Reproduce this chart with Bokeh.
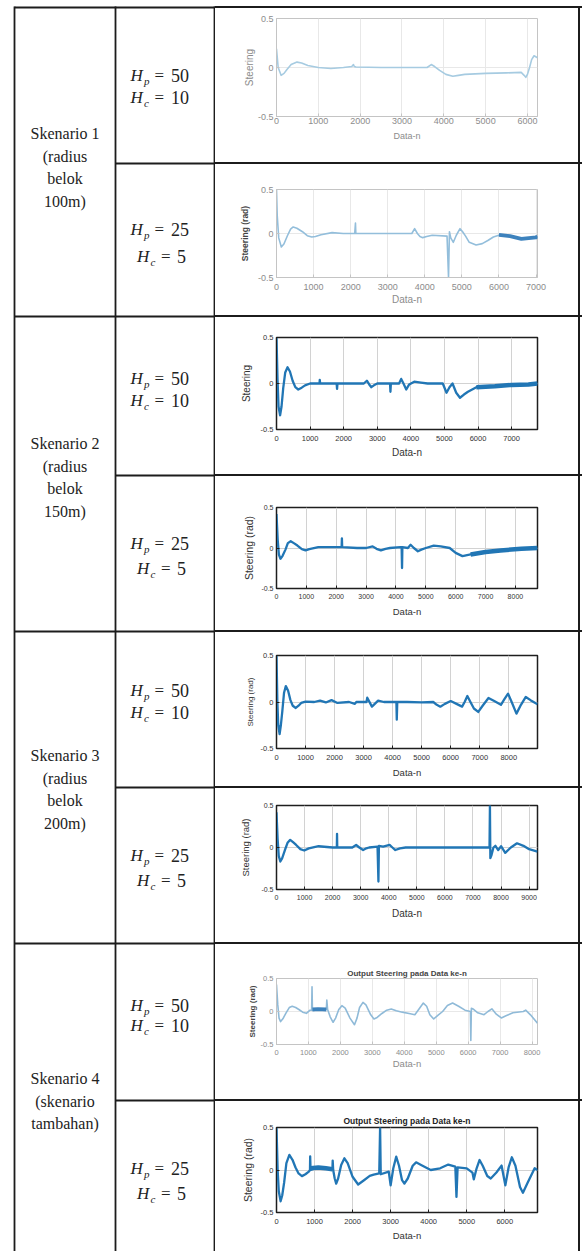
from bokeh.plotting import figure
from bokeh.layouts import row, column
from bokeh.models import Range1d, FixedTicker
from bokeh.core.properties import value
from bokeh.embed import file_html
from bokeh.resources import INLINE

# ---------------- data ----------------
# Skenario 1, Hp=50 Hc=10
p1_x = [0, 40, 110, 180, 250, 350, 490, 600, 750, 1000, 1300, 1600, 1800, 1840, 1860, 1900, 2500, 3000, 3600, 3700, 3780, 3900, 4050, 4215, 4350, 4500, 5000, 5500, 5850, 5920, 5960, 6000, 6050, 6100, 6157, 6240]
p1_y = [0.19, 0.0, -0.08, -0.06, -0.02, 0.03, 0.055, 0.045, 0.02, 0.0, -0.01, 0.0, 0.01, 0.03, 0.01, 0.005, 0.0, 0.0, 0.0, 0.03, 0.01, -0.03, -0.07, -0.09, -0.08, -0.07, -0.06, -0.055, -0.05, -0.08, -0.1, -0.07, 0.0, 0.08, 0.12, 0.1]
# Skenario 1, Hp=25 Hc=5
p2_x = [0, 20, 60, 130, 200, 300, 380, 450, 550, 700, 830, 951, 1050, 1200, 1500, 1800, 2110, 2130, 2140, 2500, 3000, 3650, 3726, 3800, 3870, 3944, 4050, 4200, 4600, 4640, 4665, 4700, 4770, 4850, 4950, 5020, 5100, 5200, 5384, 5550, 5700, 5850, 6038, 6300, 6605, 7000, 7040]
p2_y = [0.5, 0.2, -0.05, -0.153, -0.12, -0.02, 0.05, 0.074, 0.06, 0.02, -0.025, -0.04, -0.035, -0.015, 0.01, 0.0, 0.0, 0.12, 0.0, 0.0, 0.0, 0.0, 0.055, 0.0, -0.035, -0.047, -0.035, -0.02, -0.03, -0.5, 0.02, -0.05, -0.1, -0.02, 0.055, 0.02, -0.03, -0.1, -0.13, -0.115, -0.08, -0.04, -0.015, -0.03, -0.06, -0.045, -0.03]
p2_band_x = [6000, 6300, 6605, 7000, 7040]
p2_band_y = [-0.015, -0.03, -0.06, -0.045, -0.03]
# Skenario 2, Hp=50 Hc=10
p3_x = [0, 30, 60, 107, 150, 200, 260, 329, 400, 480, 560, 648, 750, 850, 1000, 1280, 1288, 1300, 1790, 1803, 1815, 2600, 2690, 2760, 2824, 2900, 3000, 3380, 3392, 3405, 3650, 3712, 3780, 3863, 3950, 4100, 4300, 4500, 4950, 5062, 5150, 5240, 5350, 5462, 5580, 5700, 5950, 6500, 7000, 7500, 7770]
p3_y = [0.5, 0.05, -0.25, -0.345, -0.25, -0.05, 0.12, 0.176, 0.13, 0.03, -0.04, -0.065, -0.045, -0.02, 0.0, 0.0, 0.04, 0.0, 0.0, -0.058, 0.0, 0.0, 0.03, -0.01, -0.04, -0.02, 0.0, 0.0, -0.09, 0.0, 0.0, 0.05, 0.0, -0.065, -0.01, 0.02, 0.01, 0.0, 0.0, -0.1, -0.04, 0.0, -0.1, -0.155, -0.12, -0.09, -0.04, -0.03, -0.015, -0.01, 0.0]
p3_band_x = [5950, 6500, 7000, 7500, 7770]
p3_band_y = [-0.04, -0.03, -0.015, -0.01, 0.0]
# Skenario 2, Hp=25 Hc=5
p4_x = [0, 40, 80, 133, 200, 300, 380, 476, 580, 700, 850, 973, 1100, 1400, 2000, 2180, 2190, 2200, 2700, 3000, 3219, 3350, 3495, 3650, 3800, 4150, 4190, 4204, 4215, 4400, 4491, 4600, 4735, 4850, 5000, 5265, 5500, 5800, 6000, 6228, 6500, 7000, 7500, 8200, 8740]
p4_y = [0.42, 0.1, -0.08, -0.133, -0.1, -0.02, 0.06, 0.084, 0.06, 0.03, -0.015, -0.03, -0.015, 0.01, 0.01, 0.01, 0.12, 0.01, 0.0, 0.0, 0.02, -0.01, -0.03, -0.01, 0.0, 0.01, 0.01, -0.247, 0.01, 0.0, 0.04, 0.0, -0.04, -0.02, 0.0, 0.03, 0.02, 0.0, -0.06, -0.1, -0.08, -0.05, -0.03, -0.01, 0.0]
p4_band_x = [6500, 7000, 7500, 8200, 8740]
p4_band_y = [-0.08, -0.05, -0.03, -0.01, 0.0]
# Skenario 3, Hp=50 Hc=10
p5_x = [0, 30, 60, 107, 150, 200, 260, 321, 400, 480, 560, 664, 760, 850, 1000, 1300, 1500, 1700, 1895, 2100, 2500, 2700, 2750, 3100, 3126, 3287, 3500, 3700, 4130, 4143, 4160, 4500, 5000, 5400, 5520, 5642, 5800, 6000, 6200, 6392, 6480, 6574, 6680, 6800, 6949, 7100, 7302, 7500, 7730, 7850, 7976, 8100, 8265, 8420, 8587, 8750, 8990]
p5_y = [0.5, 0.0, -0.25, -0.346, -0.25, -0.1, 0.1, 0.171, 0.12, 0.02, -0.04, -0.064, -0.04, -0.01, 0.005, 0.0, 0.015, -0.005, 0.02, -0.01, 0.0, -0.02, 0.0, 0.0, 0.046, -0.05, 0.015, 0.0, 0.0, -0.19, 0.0, 0.0, -0.005, 0.0, -0.03, -0.05, -0.02, 0.01, -0.02, -0.05, 0.0, 0.065, 0.0, -0.07, -0.107, -0.04, 0.043, 0.01, -0.03, 0.03, 0.09, 0.0, -0.125, -0.03, 0.054, 0.02, -0.025]
# Skenario 3, Hp=25 Hc=5
p6_x = [0, 40, 80, 136, 200, 300, 400, 488, 600, 700, 850, 988, 1150, 1500, 2000, 2150, 2157, 2165, 2700, 2838, 2950, 3087, 3200, 3300, 3600, 3632, 3650, 3800, 4030, 4130, 4234, 4400, 4600, 7590, 7605, 7620, 7662, 7730, 7800, 7900, 8002, 8150, 8350, 8570, 8800, 9000, 9300]
p6_y = [0.42, 0.1, -0.1, -0.167, -0.13, -0.03, 0.06, 0.091, 0.06, 0.03, -0.02, -0.036, -0.01, 0.015, 0.0, 0.0, 0.163, 0.0, 0.0, 0.03, 0.0, -0.03, -0.01, 0.0, 0.01, -0.405, 0.02, 0.01, 0.03, 0.0, -0.03, -0.01, 0.0, 0.0, 0.5, -0.127, -0.09, 0.0, 0.02, -0.03, 0.015, -0.063, 0.0, 0.05, 0.02, -0.02, -0.048]
# Skenario 4, Hp=50 Hc=10
p7_x = [0, 40, 80, 128, 200, 300, 400, 492, 600, 700, 820, 935, 1050, 1100, 1112, 1125, 1560, 1575, 1600, 1680, 1772, 1850, 1950, 2047, 2150, 2300, 2441, 2520, 2600, 2707, 2800, 2950, 3051, 3150, 3300, 3450, 3592, 3750, 3937, 4150, 4331, 4450, 4596, 4700, 4800, 4921, 5050, 5200, 5350, 5512, 5700, 5900, 6070, 6083, 6100, 6151, 6300, 6496, 6620, 6742, 6880, 7037, 7200, 7400, 7726, 7800, 7950, 8170]
p7_y = [0.41, 0.1, -0.1, -0.153, -0.11, -0.02, 0.06, 0.078, 0.06, 0.03, -0.01, -0.028, 0.02, 0.02, 0.374, 0.02, 0.03, 0.173, 0.03, -0.08, -0.163, -0.1, 0.03, 0.088, 0.05, -0.1, -0.2, -0.1, 0.06, 0.138, 0.1, -0.05, -0.113, -0.09, -0.03, 0.02, 0.038, 0.01, -0.01, -0.03, -0.048, 0.03, 0.128, 0.08, -0.05, -0.113, -0.06, 0.0, 0.09, 0.128, 0.08, 0.02, 0.0, -0.44, 0.05, 0.038, -0.02, -0.048, 0.0, 0.04, -0.04, -0.098, -0.06, -0.02, 0.0, 0.02, -0.05, -0.178]
p7_band_x = [1125, 1300, 1560]
p7_band_y = [0.03, 0.035, 0.03]
# Skenario 4, Hp=25 Hc=5
p8_x = [0, 30, 60, 108, 150, 200, 260, 338, 420, 500, 580, 669, 760, 850, 880, 885, 895, 1000, 1200, 1470, 1477, 1490, 1530, 1569, 1620, 1700, 1785, 1870, 2000, 2146, 2300, 2450, 2554, 2700, 2723, 2740, 2950, 3000, 3070, 3146, 3220, 3300, 3362, 3450, 3580, 3669, 3800, 4054, 4300, 4515, 4700, 4730, 4760, 5000, 5150, 5185, 5260, 5338, 5420, 5540, 5631, 5780, 5915, 6015, 6100, 6185, 6280, 6400, 6477, 6600, 6785, 6860]
p8_y = [0.5, 0.0, -0.25, -0.368, -0.3, -0.15, 0.08, 0.177, 0.12, 0.03, -0.04, -0.072, -0.05, -0.02, 0.0, 0.16, 0.0, 0.02, 0.02, 0.01, 0.11, 0.0, -0.1, -0.16, -0.1, 0.06, 0.138, 0.08, -0.08, -0.17, -0.12, -0.07, -0.055, -0.04, 0.5, -0.05, -0.02, -0.18, 0.02, 0.157, 0.05, -0.12, -0.16, -0.1, 0.05, 0.09, 0.06, 0.0, 0.02, 0.064, 0.04, -0.317, 0.03, 0.02, -0.03, -0.11, 0.02, 0.118, 0.05, -0.07, -0.1, -0.03, 0.052, -0.18, 0.03, 0.15, 0.05, -0.2, -0.267, -0.15, 0.02, 0.0]
p8_band_x = [900, 1100, 1300, 1470]
p8_band_y = [0.02, 0.03, 0.02, 0.01]

x_max = [6240, 7040, 7770, 8740, 8990, 9300, 8170, 6860]
x_ticks = [
    [0, 1000, 2000, 3000, 4000, 5000, 6000],
    [0, 1000, 2000, 3000, 4000, 5000, 6000, 7000],
    [0, 1000, 2000, 3000, 4000, 5000, 6000, 7000],
    [0, 1000, 2000, 3000, 4000, 5000, 6000, 7000, 8000],
    [0, 1000, 2000, 3000, 4000, 5000, 6000, 7000, 8000],
    [0, 1000, 2000, 3000, 4000, 5000, 6000, 7000, 8000, 9000],
    [0, 1000, 2000, 3000, 4000, 5000, 6000, 7000, 8000],
    [0, 1000, 2000, 3000, 4000, 5000, 6000],
]
ytick_vals = [-0.5, 0, 0.5]
ytick_labels = ["-0.5", "0", "0.5"]
y_labels = ["Steering", "Steering (rad)", "Steering", "Steering (rad)",
            "Steering (rad)", "Steering (rad)", "Steering (rad)", "Steering (rad)"]
x_label = "Data-n"
titles = [None, None, None, None, None, None,
          "Output Steering pada Data ke-n", "Output Steering pada Data ke-n"]

scenario_text = [["Skenario 1", "(radius", "belok", "100m)"],
                 ["Skenario 2", "(radius", "belok", "150m)"],
                 ["Skenario 3", "(radius", "belok", "200m)"],
                 ["Skenario 4", "(skenario", "tambahan)"]]
hp_vals = ["50", "25", "50", "25", "50", "25", "50", "25"]
hc_vals = ["10", "5", "10", "5", "10", "5", "10", "5"]

series = [(p1_x, p1_y, None, None), (p2_x, p2_y, p2_band_x, p2_band_y),
          (p3_x, p3_y, p3_band_x, p3_band_y), (p4_x, p4_y, p4_band_x, p4_band_y),
          (p5_x, p5_y, None, None), (p6_x, p6_y, None, None),
          (p7_x, p7_y, p7_band_x, p7_band_y), (p8_x, p8_y, p8_band_x, p8_band_y)]

# ---------------- layout constants ----------------
LINE = "#1c1c1c"
ROW_Y = [7, 163, 316, 475, 631, 787, 943, 1100, 1251]
COL_X = [14, 115, 214]
RIGHT_X = 579
SCEN_Y0 = [133, 443, 755, 1078]
SCEN_DY = 22.5
HP_Y = [75, 229, 378, 543, 690, 855, 1005, 1168]
HC_Y = [97, 256, 400, 568, 712, 880, 1025, 1193]
HCX = 161

PANELS = [
    dict(top=0, h=162, L=274, R=537, T=18, B=116, dark=False, tf=9, to=6.5, xf=9, xo=21, yf=10, yo=22, yb=False, lc="#a6cbe1", lw=1.6),
    dict(top=162, h=153, L=273, R=542, T=189, B=277, dark=False, tf=9, to=11, xf=10, xo=23, yf=8.5, yo=28, yb=True, lc="#93bedb", lw=1.6),
    dict(top=315, h=159, L=268, R=560, T=337, B=429, dark=True, tf=7.5, to=10, xf=10, xo=23, yf=10, yo=28, yb=False, lc="#2176b5", lw=2.3),
    dict(top=474, h=156, L=276, R=539, T=507, B=588, dark=True, tf=7, to=9, xf=9.5, xo=22, yf=10.5, yo=24, yb=False, lc="#2176b5", lw=2.3),
    dict(top=630, h=156, L=261, R=542, T=655, B=748, dark=True, tf=7.5, to=10, xf=9.5, xo=24, yf=8, yo=24, yb=False, lc="#2176b5", lw=2.3),
    dict(top=786, h=156, L=273, R=547, T=805, B=889, dark=True, tf=7, to=9, xf=10, xo=24, yf=9.5, yo=28, yb=False, lc="#2176b5", lw=2.3),
    dict(top=942, h=157, L=267, R=543, T=978, B=1044, dark=False, tf=7.5, to=9, xf=9.5, xo=18, yf=8, yo=22, yb=True, lc="#8fbad8", lw=1.6, ttf=8, tto=6),
    dict(top=1099, h=152, L=268, R=565, T=1127, B=1212, dark=True, tf=7.5, to=10, xf=9.5, xo=23, yf=10.5, yo=26, yb=False, lc="#2176b5", lw=2.3, ttf=8.5, tto=8),
]

# ---------------- left part of the table ----------------
left = figure(width=215, height=1251, x_range=Range1d(0, 215), y_range=Range1d(1251, 0),
              output_backend="svg", toolbar_location=None, min_border=0)
left.axis.visible = False
left.grid.visible = False
left.outline_line_color = None
left.background_fill_color = "white"
left.border_fill_color = "white"

sx0, sy0, sx1, sy1 = [], [], [], []
for i, y in enumerate(ROW_Y[:-1]):
    sx0.append(COL_X[0] if i % 2 == 0 else COL_X[1]); sx1.append(215)
    sy0.append(y); sy1.append(y)
for x in COL_X:
    sx0.append(x); sx1.append(x); sy0.append(ROW_Y[0] - 1); sy1.append(1251)
left.segment(x0=sx0, y0=sy0, x1=sx1, y1=sy1, line_color=LINE, line_width=1.8)

tx, ty, tt = [], [], []
for s, lines in enumerate(scenario_text):
    for k, t in enumerate(lines):
        tx.append(64.5); ty.append(SCEN_Y0[s] + k * SCEN_DY); tt.append(t)
left.text(x=tx, y=ty, text=tt, text_font=value("Liberation Serif"), text_font_size="16px",
          text_align="center", text_baseline="middle", text_color="#222222")

hx, hy, sbx, sby, sbt, ex, ey, nx, ny, nt = [], [], [], [], [], [], [], [], [], []
for r in range(8):
    for yc, sub, num in ((HP_Y[r], "p", hp_vals[r]), (HC_Y[r], "c", hc_vals[r])):
        if len(num) == 2:
            offs = (-31, -17.6, -7, 9.5)
        else:
            offs = (-24.5, -11.1, -0.5, 15.5)
        hx.append(HCX + offs[0]); hy.append(yc)
        sbx.append(HCX + offs[1]); sby.append(yc + 5); sbt.append(sub)
        ex.append(HCX + offs[2]); ey.append(yc)
        nx.append(HCX + offs[3]); ny.append(yc); nt.append(num)
left.text(x=hx, y=hy, text=["H"] * len(hx), text_font=value("Liberation Serif"), text_font_style="italic",
          text_font_size="17px", text_align="left", text_baseline="middle", text_color="#222222")
left.text(x=sbx, y=sby, text=sbt, text_font=value("Liberation Serif"), text_font_style="italic",
          text_font_size="11px", text_align="left", text_baseline="middle", text_color="#222222")
left.text(x=ex, y=ey, text=["="] * len(ex), text_font=value("Liberation Serif"),
          text_font_size="17px", text_align="left", text_baseline="middle", text_color="#222222")
left.text(x=nx, y=ny, text=nt, text_font=value("Liberation Serif"),
          text_font_size="18px", text_align="left", text_baseline="middle", text_color="#222222")

# ---------------- right column: the plots ----------------
panels = []
for i, g in enumerate(PANELS):
    xs, ys, bxs, bys = series[i]
    top_local = ROW_Y[i] - g["top"]
    bg = (f"linear-gradient({LINE},{LINE}) 0px {top_local - 1}px / 100% 2px no-repeat, "
          f"linear-gradient({LINE},{LINE}) {RIGHT_X - 215 - 1}px {top_local - 1}px / 2px 100% no-repeat, #ffffff")
    p = figure(width=367, height=g["h"], x_range=Range1d(0, x_max[i]), y_range=Range1d(-0.5, 0.5),
               output_backend="svg", toolbar_location=None,
               min_border_left=g["L"] - 215, min_border_right=582 - g["R"],
               min_border_top=g["T"] - g["top"], min_border_bottom=g["top"] + g["h"] - g["B"],
               styles={"background": bg})
    p.border_fill_color = None
    p.background_fill_color = "white"
    dark = g["dark"]
    frame_c = "#1e1e1e" if dark else "#c4c4c4"
    lab_c = "#333333" if dark else "#8c8c8c"
    grid_c = "#d2d2d2" if dark else "#e8e8e8"
    p.outline_line_color = frame_c
    p.outline_line_width = 1.5 if dark else 1.0
    p.xaxis.ticker = FixedTicker(ticks=x_ticks[i])
    p.yaxis.ticker = FixedTicker(ticks=ytick_vals)
    p.yaxis.major_label_overrides = dict(zip(ytick_vals, ytick_labels))
    for ax in (p.xaxis[0], p.yaxis[0]):
        ax.major_tick_in = 3
        ax.major_tick_out = 0
        ax.minor_tick_line_color = None
        ax.axis_line_color = frame_c
        ax.major_tick_line_color = frame_c
        ax.major_label_text_font = "Liberation Sans"
        ax.major_label_text_font_size = f"{g['tf']}px"
        ax.major_label_text_color = lab_c
        ax.axis_label_text_font = "Liberation Sans"
        ax.axis_label_text_font_style = "normal"
    p.xgrid.grid_line_color = grid_c
    p.ygrid.grid_line_color = grid_c
    xstand = max(0, g["to"] - 0.58 * g["tf"])
    p.xaxis.major_label_standoff = int(round(xstand))
    p.xaxis.axis_label = x_label
    p.xaxis.axis_label_text_font_size = f"{g['xf']}px"
    p.xaxis.axis_label_text_color = lab_c
    p.xaxis.axis_label_standoff = int(round(max(0, g["xo"] - 0.58 * g["xf"] - xstand - 1.15 * g["tf"])))
    p.yaxis.major_label_standoff = 3
    p.yaxis.axis_label = y_labels[i]
    p.yaxis.axis_label_text_font_size = f"{g['yf']}px"
    p.yaxis.axis_label_text_font_style = "bold" if g["yb"] else "normal"
    p.yaxis.axis_label_text_color = ("#444444" if g["yb"] else lab_c)
    p.yaxis.axis_label_standoff = int(round(max(0, g["yo"] - 3 - 1.723 * g["tf"] - 0.58 * g["yf"])))
    if titles[i]:
        p.title.text = titles[i]
        p.title.align = "center"
        p.title.text_font = "Liberation Sans"
        p.title.text_font_style = "bold"
        p.title.text_font_size = f"{g['ttf']}px"
        p.title.text_color = "#222222" if dark else "#444444"
        p.title.standoff = int(round(max(0, g["tto"] - 0.58 * g["ttf"])))
    else:
        p.title.visible = False
    p.line(xs, ys, line_color=g["lc"], line_width=g["lw"], line_join="round")
    if bxs is not None:
        bc = "#3d82bd" if not dark else g["lc"]
        p.line(bxs, bys, line_color=bc, line_width=g["lw"] + 2.2, line_join="round")
    panels.append(p)

layout = row(left, column(*panels, spacing=0), spacing=0)
open("out.html", "w").write(file_html(layout, INLINE))
